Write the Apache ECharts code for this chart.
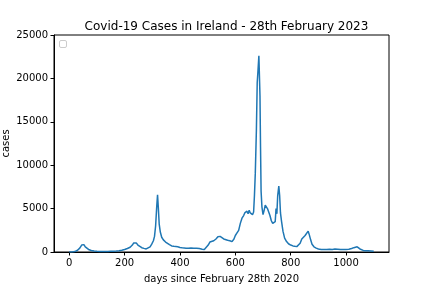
<!DOCTYPE html>
<html>
<head>
<meta charset="utf-8">
<script src="https://cdn.jsdelivr.net/npm/echarts@6/dist/echarts.min.js"></script>
<style>html,body{margin:0;padding:0;background:#fff}#c{width:432px;height:288px}</style>
</head>
<body>
<div id="c"></div>
<script>
const days = [0,10,20,30,38,45,50,53,58,65,72,80,90,100,110,120,130,140,150,160,170,180,190,200,210,220,228,233,238,242,248,255,262,270,278,285,292,298,304,308,312,316,319,322,325,329,334,340,348,355,362,370,378,385,392,400,408,415,422,430,440,450,460,470,480,488,495,502,508,515,522,530,537,545,552,558,565,572,580,588,595,600,606,612,618,624,630,634,638,642,646,650,654,658,662,666,669,672,676,679,682,685,687,689,691,693,696,700,704,708,712,716,720,725,730,735,740,744,747,750,753,757,760,763,767,772,778,785,792,800,808,815,822,828,834,840,846,852,858,863,867,872,877,884,892,900,910,920,930,940,950,960,970,980,990,1000,1010,1020,1028,1035,1040,1045,1050,1055,1062,1070,1080,1090,1100];
const cases = [0,10,50,200,450,800,1000,850,600,400,250,180,110,80,60,50,50,60,80,100,120,150,200,280,400,550,800,1050,1200,1050,800,600,500,420,350,400,600,900,1300,1800,3000,5200,6600,5000,3200,2300,1700,1400,1150,1000,850,700,650,560,600,520,480,530,430,420,460,430,440,400,320,280,450,800,1150,1250,1300,1500,1750,1800,1750,1500,1400,1350,1300,1200,1500,1900,2200,2500,3300,3900,4200,4500,4400,4700,4400,4800,4500,4600,4300,4600,6500,9000,14000,19500,21000,22600,22400,18000,12000,7000,5200,4300,4800,5400,5300,5000,4800,4200,3600,3300,3200,3500,5000,4400,6500,7600,6500,4500,3500,2400,1600,1200,950,800,700,650,620,700,1000,1500,1700,1900,2100,2400,2000,1400,900,600,450,350,300,280,300,320,300,350,330,300,280,300,320,400,500,550,600,480,350,250,180,150,140,120,100];
const xTicks = [0,200,400,600,800,1000];
const yTicks = [0,5000,10000,15000,20000,25000];
const titleText = 'Covid-19 Cases in Ireland - 28th February 2023';
const xName = 'days since February 28th 2020';
const yName = 'cases';

const chart = echarts.init(document.getElementById('c'), null, {renderer:'canvas'});
const F = 'DejaVu Sans';
chart.setOption({
  animation:false,
  title:{text:titleText,left:221.5,textAlign:'center',top:16,textStyle:{fontFamily:F,fontSize:12,fontWeight:'normal',color:'#000'}},
  grid:{left:54,right:43,top:35,bottom:36,show:true,borderColor:'#000',borderWidth:1,backgroundColor:'transparent',containLabel:false,outerBoundsMode:'none'},
  xAxis:{type:'value',min:-55,max:1155,
    name:xName,nameLocation:'middle',nameGap:22,nameTextStyle:{fontFamily:F,fontSize:10,color:'#000'},
    axisLine:{show:true,onZero:false,lineStyle:{color:'#000',width:1}},
    axisTick:{show:true,customValues:xTicks,length:3.5,lineStyle:{color:'#000'}},
    axisLabel:{customValues:xTicks,fontFamily:F,fontSize:10,color:'#000',margin:6,formatter:v=>String(v)},
    splitLine:{show:false}},
  yAxis:{type:'value',min:0,max:25000,
    name:yName,nameLocation:'middle',nameGap:43,nameMoveOverlap:false,nameRotate:90,nameTextStyle:{fontFamily:F,fontSize:10,color:'#000'},
    axisLine:{show:true,onZero:false,lineStyle:{color:'#000',width:1}},
    axisTick:{show:true,customValues:yTicks,length:3.5,lineStyle:{color:'#000'}},
    axisLabel:{customValues:yTicks,fontFamily:F,fontSize:10,color:'#000',margin:6,formatter:v=>String(v)},
    splitLine:{show:false}},
  graphic:[{type:'rect',shape:{x:59.5,y:40.5,width:7,height:7,r:1.5},style:{fill:'#fff',stroke:'#ccc',lineWidth:1}}],
  series:[{type:'line',data:days.map((d,i)=>[d,cases[i]]),showSymbol:false,lineStyle:{color:'#1f77b4',width:1.5},itemStyle:{color:'#1f77b4'}}]
});
</script>
</body>
</html>
